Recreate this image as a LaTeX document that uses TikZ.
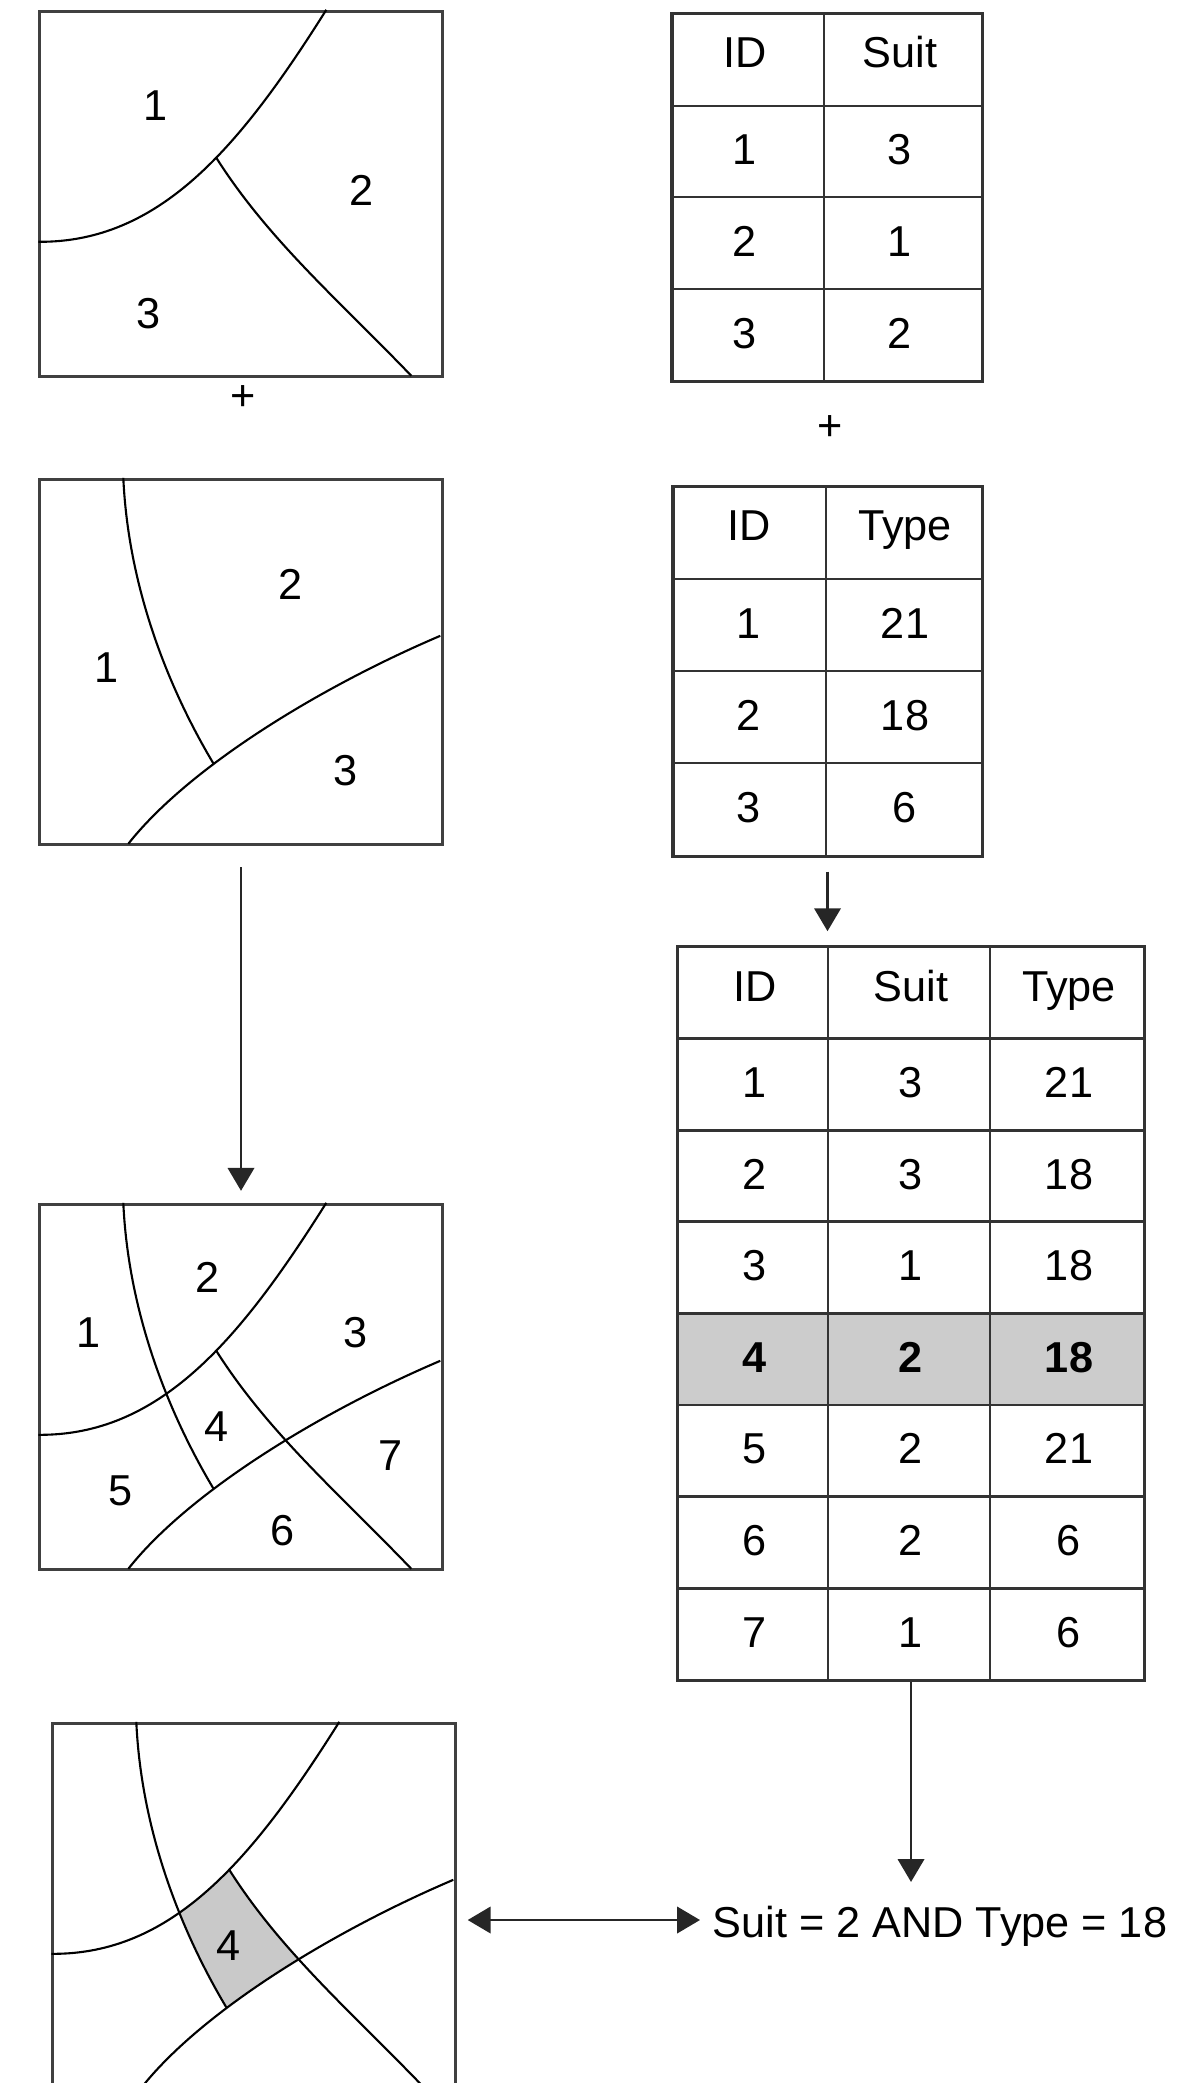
\documentclass[tikz,border=0pt]{standalone}
\usepackage{fontspec}
\setmainfont{Liberation Sans}
\usetikzlibrary{arrows.meta}

\tikzset{
  mapbox/.style={draw=black!75, line width=0.9pt, minimum width=4.02cm, minimum height=3.65cm, inner sep=0pt},
  edge/.style={line width=0.6pt},
  lab/.style={inner sep=0pt},
  tabframe/.style={draw=black!80, line width=0.9pt, inner sep=0pt},
  tabline/.style={draw=black!80, line width=0.8pt},
  cell/.style={anchor=base, inner sep=0pt},
  arr/.style={line width=0.7pt, draw=black!85, -{Triangle[width=7.5pt,length=6.5pt]}},
  dblarr/.style={line width=0.7pt, draw=black!85, {Triangle[width=7.5pt,length=6.5pt]}-{Triangle[width=7.5pt,length=6.5pt]}}
}

% boundaries of the suitability map
\newcommand{\suitlines}{%
  \draw[edge] (0,232) .. controls (120,233) and (200,140) .. (288,0);
  \draw[edge] (178,148) .. controls (230,230) and (300,290) .. (373,366);
}
% boundaries of the type map
\newcommand{\typelines}{%
  \draw[edge] (90,366) .. controls (150,290) and (280,210) .. (402,158);
  \draw[edge] (85,0) .. controls (90,110) and (130,210) .. (175,285.5);
}

\begin{document}
\begin{tikzpicture}[x=0.01cm, y=-0.01cm, font=\fontsize{12.3}{14}\selectfont]
  \useasboundingbox (0,0) rectangle (1189,2083);
  \clip (0,0) rectangle (1189,2083);

  % maps on the left
  \node[mapbox] (map1) at (241,194) {};
  \begin{scope}[shift={(map1.north west)}]
    \suitlines
    \node[lab] (m1a) at (117,96) {1};
    \node[lab] (m1b) at (323,181) {2};
    \node[lab] (m1c) at (110,304) {3};
  \end{scope}
  \node (plus1) at (243,398) {+};

  \node[mapbox] (map2) at (241,662) {};
  \begin{scope}[shift={(map2.north west)}]
    \typelines
    \node[lab] (m2a) at (68,190) {1};
    \node[lab] (m2b) at (252,107) {2};
    \node[lab] (m2c) at (307,293) {3};
  \end{scope}

  \node[mapbox] (map3) at (241,1387) {};
  \begin{scope}[shift={(map3.north west)}]
    \suitlines
    \typelines
    \node[lab] (m3a) at (50,130) {1};
    \node[lab] (m3b) at (169,75) {2};
    \node[lab] (m3c) at (317,130) {3};
    \node[lab] (m3d) at (178,224) {4};
    \node[lab] (m3e) at (82,288) {5};
    \node[lab] (m3f) at (244,328) {6};
    \node[lab] (m3g) at (352,253) {7};
  \end{scope}

  \node[mapbox] (map4) at (254,1906) {};
  \begin{scope}[shift={(map4.north west)}]
    \begin{scope}
      \clip (0,232) .. controls (120,233) and (200,140) .. (288,0) -- (402,0) -- (402,366) -- (0,366) -- cycle;
      \clip (85,0) .. controls (90,110) and (130,210) .. (175,285.5) -- (223,366) -- (402,366) -- (402,0) -- cycle;
      \clip (90,366) .. controls (150,290) and (280,210) .. (402,158) -- (402,0) -- (0,0) -- (0,366) -- cycle;
      \clip (71,-4) -- (178,148) .. controls (230,230) and (300,290) .. (373,366) -- (0,366) -- (0,-4) -- cycle;
      \fill[black!21] (0,0) rectangle (402,366);
    \end{scope}
    \suitlines
    \typelines
    \node[lab] (m4d) at (177,224) {4};
  \end{scope}

  % table 1: suitability
  \node[tabframe, minimum width=3.10cm, minimum height=3.67cm] (tab1) at (827,197.5) {};
  \draw[tabline] (824,14) -- (824,381);
  \foreach \y in {106,197,289}
    \draw[tabline] (672,\y) -- (982,\y);
  \node[cell] (t1h1) at (745,68) {ID};
  \node[cell] (t1h2) at (900,68) {Suit};
  \foreach \a/\b [count=\i] in {1/3,2/1,3/2} {
    \node[cell] (t1r\i-a) at (745,{14+91.75*(\i+0.5)+13}) {\a};
    \node[cell] (t1r\i-b) at (900,{14+91.75*(\i+0.5)+13}) {\b};
  }
  \node (plus2) at (830,428) {+};

  % table 2: type
  \node[tabframe, minimum width=3.09cm, minimum height=3.69cm] (tab2) at (827.5,671.5) {};
  \draw[tabline] (826,487) -- (826,856);
  \foreach \y in {579,671,763}
    \draw[tabline] (673,\y) -- (982,\y);
  \node[cell] (t2h1) at (749,541) {ID};
  \node[cell] (t2h2) at (905,541) {Type};
  \foreach \a/\b [count=\i] in {1/21,2/18,3/6} {
    \node[cell] (t2r\i-a) at (749,{487+92.25*(\i+0.5)+13}) {\a};
    \node[cell] (t2r\i-b) at (905,{487+92.25*(\i+0.5)+13}) {\b};
  }

  % table 3: overlay result
  \fill[black!20] (678,1313.5) rectangle (1144,1405.1);
  \node[tabframe, minimum width=4.66cm, minimum height=7.33cm] (tab3) at (911,1313.5) {};
  \draw[tabline] (828,947) -- (828,1680);
  \draw[tabline] (990,947) -- (990,1680);
  \foreach \k in {1,...,7}
    \draw[tabline] (678,{947+91.6*\k}) -- (1144,{947+91.6*\k});
  \node[cell] (t3h1) at (755,1001) {ID};
  \node[cell] (t3h2) at (911,1001) {Suit};
  \node[cell] (t3h3) at (1069,1001) {Type};
  \foreach \a/\b/\c [count=\i] in {1/3/21,2/3/18,3/1/18,\textbf{4}/\textbf{2}/\textbf{18},5/2/21,6/2/6,7/1/6} {
    \node[cell] (t3r\i-a) at (755,{947+91.6*(\i+0.5)+13}) {\a};
    \node[cell] (t3r\i-b) at (911,{947+91.6*(\i+0.5)+13}) {\b};
    \node[cell] (t3r\i-c) at (1069,{947+91.6*(\i+0.5)+13}) {\c};
  }

  % query
  \node[anchor=base west, inner sep=0pt] (query) at (712,1937) {Suit = 2 AND Type = 18};

  % arrows
  \draw[arr, shorten <=0.21cm, shorten >=0.12cm] (map2.south) -- (map3.north);
  \draw[arr, shorten <=0.14cm, shorten >=0.14cm] (tab2.south) -- (tab2.south |- tab3.north);
  \draw[arr, shorten >=0.23cm] (tab3.south) -- (tab3.south |- query.north);
  \draw[dblarr, shorten <=0.11cm, shorten >=0.12cm] (map4.east |- 0,1920) -- (query.west |- 0,1920);
\end{tikzpicture}
\end{document}
